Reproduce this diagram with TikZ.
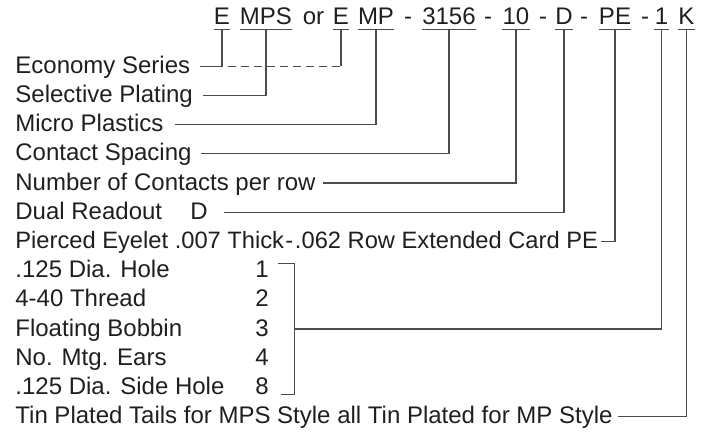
\documentclass[tikz,border=0pt]{standalone}
\usepackage{fontspec}
\setmainfont{Liberation Sans}
\begin{document}
\begin{tikzpicture}[x=0.5pt,y=-0.5pt,
  lbl/.style={anchor=base west, inner sep=0pt, text height=0.7em, text depth=0pt,
              font=\fontsize{12}{14}\selectfont, text=black!88},
  code/.style={anchor=base, inner xsep=0pt, inner ysep=2pt, text height=0.7em, text depth=0pt,
               font=\fontsize{12}{14}\selectfont, text=black!88},
  lead/.style={draw=black!70, line width=0.6pt}]
\useasboundingbox (0,0) rectangle (708,432);

% part number
\node[code] (e1)  at (222,25)   {E};
\node[code] (mps) at (266,25)   {MPS};
\node[code] (or)  at (313.5,25) {or};
\node[code] (e2)  at (341,25)   {E};
\node[code] (mp)  at (376,25)   {MP};
\node[code] (h1)  at (408,25)   {-};
\node[code] (num) at (449,25)   {3156};
\node[code] (h2)  at (488,25)   {-};
\node[code] (cnt) at (516,25)   {10};
\node[code] (h3)  at (543,25)   {-};
\node[code] (dr)  at (564,25)   {D};
\node[code] (h4)  at (584,25)   {-};
\node[code] (pe)  at (615,25)   {PE};
\node[code] (h5)  at (645,25)   {-};
\node[code] (mt)  at (661.5,25) {1};
\node[code] (tn)  at (686.5,25) {K};
\foreach \n in {e1,mps,e2,mp,num,cnt,dr,pe,mt,tn}
  \draw[lead] (\n.south west) -- (\n.south east);

% descriptions
\node[lbl] (eco) at (15,73.3)  {Economy Series};
\node[lbl] (sel) at (15,102.5) {Selective Plating};
\node[lbl] (mic) at (15,131.7) {Micro Plastics};
\node[lbl] (csp) at (15,160.9) {Contact Spacing};
\node[lbl] (ncp) at (15,190.1) {Number of Contacts per row};
\node[lbl] (dro) at (15,219.3) {Dual Readout};
\node[lbl] (dv)  at (190,219.3) {D};
\node[lbl, font=\fontsize{11.85}{14}\selectfont] (pie) at (15,248.5)
  {Pierced Eyelet .007 Thick\kern0.6pt-\kern0.9pt.062 Row Extended Card PE};
\node[lbl] (m1)  at (15,277.7) {.125 Dia. Hole};
\node[lbl] (m2)  at (15,306.9) {4-40 Thread};
\node[lbl] (m3)  at (15,336.1) {Floating Bobbin};
\node[lbl] (m4)  at (15,365.3) {No. Mtg. Ears};
\node[lbl] (m8)  at (15,394.5) {.125 Dia. Side Hole};
\node[lbl] (n1)  at (255,277.7) {1};
\node[lbl] (n2)  at (255,306.9) {2};
\node[lbl] (n3)  at (255,336.1) {3};
\node[lbl] (n4)  at (255,365.3) {4};
\node[lbl] (n8)  at (255,394.5) {8};
\node[lbl] (tin) at (15,423.7) {Tin Plated Tails for MPS Style all Tin Plated for MP Style};

% leaders
\draw[lead] ([xshift=4.5pt]eco.east) -| (e1.south);
\draw[lead, dash pattern=on 4pt off 2.5pt] ([xshift=3pt]e1.south |- eco.east) -- (e2.south |- eco.east);
\draw[lead] (e2.south |- eco.east) -- (e2.south);
\draw[lead] ([xshift=5pt]sel.east) -| (mps.south);
\draw[lead] ([xshift=5.5pt]mic.east) -| (mp.south);
\draw[lead] ([xshift=4.5pt]csp.east) -| (num.south);
\draw[lead] ([xshift=3.5pt]ncp.east) -| (cnt.south);
\draw[lead] ([xshift=8pt]dv.east) -| (dr.south);
\draw[lead] ([xshift=1.5pt]pie.east) -| (pe.south);
\draw[lead] ([xshift=4.5pt]n1.north east) -- ++(16,0) coordinate (bt)
  -- (bt |- n8.south) -- ([xshift=6pt]n8.south east);
\draw[lead] (bt |- n3.east) -| (mt.south);
\draw[lead] ([xshift=2.5pt]tin.east) -| (tn.south);
\end{tikzpicture}
\end{document}
